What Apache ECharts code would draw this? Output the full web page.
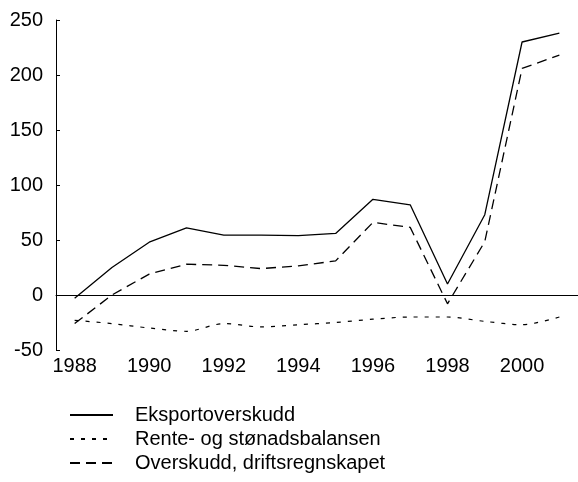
<!DOCTYPE html>
<html>
<head>
<meta charset="utf-8">
<script src="https://cdn.jsdelivr.net/npm/echarts@6/dist/echarts.min.js"></script>
<style>
  html, body { margin: 0; padding: 0; background: #fff; overflow: hidden; }
  #chart { width: 578px; height: 482px; }
</style>
</head>
<body>
<div id="chart"></div>
<script>
// years on the x axis
var years = ["1988", "1989", "1990", "1991", "1992", "1993", "1994",
             "1995", "1996", "1997", "1998", "1999", "2000", "2001"];

// series values
var eksport = [-3, 25, 48, 61, 54.5, 54.5, 54, 56, 87, 82, 10, 73, 230, 238];
var rente = [-23, -26, -30, -33, -26, -29, -27, -25, -22, -20, -20, -24, -27, -20];
var overskudd = [-26, 0, 19, 28, 27, 24, 26.5, 31, 66, 61.5, -8, 48.5, 206, 218];

var names = ["Eksportoverskudd", "Rente- og stønadsbalansen", "Overskudd, driftsregnskapet"];

var font = "Liberation Sans, Arial, sans-serif";
var chart = echarts.init(document.getElementById("chart"));

chart.setOption({
    animation: false,
    backgroundColor: "#fff",
    textStyle: { fontFamily: font, color: "#000" },
    grid: { left: 56, top: 20, width: 525, height: 330 },
    legend: {
        orient: "vertical",
        left: 69,
        top: 405,
        padding: 0,
        itemWidth: 43,
        itemHeight: 14,
        itemGap: 4,
        // hide the symbol dot, keep only the line sample
        itemStyle: { color: "rgba(0,0,0,0)", borderWidth: 0, opacity: 0 },
        textStyle: { fontFamily: font, fontSize: 20, color: "#000", padding: [0, 0, 0, 17] },
        data: names
    },
    xAxis: {
        type: "category",
        data: years,
        boundaryGap: true,
        axisLine: { lineStyle: { color: "#000", width: 1 } },
        axisTick: { inside: true, length: 5, interval: 0, lineStyle: { color: "#000" } },
        axisLabel: { interval: 1, fontSize: 20, color: "#000", margin: 6, fontFamily: font },
        splitLine: { show: false }
    },
    yAxis: {
        type: "value",
        min: -50,
        max: 250,
        interval: 50,
        axisLine: { show: true, lineStyle: { color: "#000", width: 1 } },
        axisTick: { show: true, inside: true, length: 4, lineStyle: { color: "#000" } },
        axisLabel: { fontSize: 20, color: "#000", margin: 13, fontFamily: font },
        splitLine: { show: false }
    },
    series: [
        {
            name: names[0],
            type: "line",
            data: eksport,
            symbol: "none",
            lineStyle: { color: "#000", width: 1.3, type: "solid" },
            itemStyle: { color: "#000" },
            markLine: {
                silent: true,
                symbol: "none",
                label: { show: false },
                lineStyle: { color: "#000", width: 1, type: "solid" },
                data: [{ yAxis: 0 }]
            }
        },
        {
            name: names[1],
            type: "line",
            data: rente,
            symbol: "none",
            smooth: 0.3,
            lineStyle: { color: "#000", width: 1.2, type: [4, 7] },
            itemStyle: { color: "#000" }
        },
        {
            name: names[2],
            type: "line",
            data: overskudd,
            symbol: "none",
            lineStyle: { color: "#000", width: 1.3, type: [10, 6] },
            itemStyle: { color: "#000" }
        }
    ]
});
</script>
</body>
</html>
